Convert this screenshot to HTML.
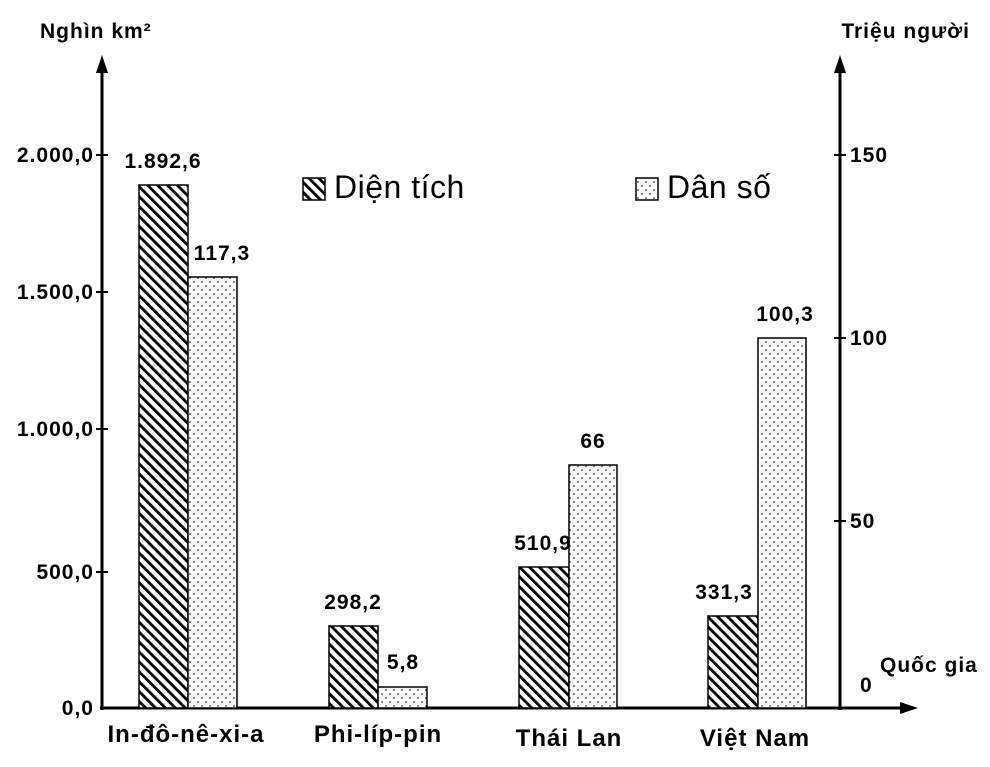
<!DOCTYPE html>
<html><head><meta charset="utf-8"><style>body{margin:0;background:#fff}svg{display:block}text{font-family:"Liberation Sans",sans-serif;font-weight:bold;fill:#000}</style></head><body>
<svg width="990" height="767" xmlns="http://www.w3.org/2000/svg">
<defs>
<pattern id="h" patternUnits="userSpaceOnUse" width="7" height="7" patternTransform="rotate(-45)"><rect width="7" height="7" fill="#fff"/><rect x="0" y="0" width="2.8" height="7" fill="#000"/></pattern>
<pattern id="d" patternUnits="userSpaceOnUse" width="8" height="8"><rect width="8" height="8" fill="#fff"/><circle cx="2" cy="2" r="0.8" fill="#000"/><circle cx="6" cy="6" r="0.8" fill="#000"/></pattern>
</defs>
<g stroke="#000" stroke-width="3" fill="none">
<line x1="102" y1="710" x2="102" y2="70"/>
<line x1="840" y1="710" x2="840" y2="70"/>
<line x1="100" y1="708" x2="905" y2="708"/>
</g>
<polygon points="102,55 96,73 108,73" fill="#000"/>
<polygon points="840,55 834,73 846,73" fill="#000"/>
<polygon points="918,708 900,702 900,714" fill="#000"/>
<g stroke="#000" stroke-width="2">
<line x1="96" y1="155" x2="108" y2="155"/><line x1="96" y1="292" x2="108" y2="292"/><line x1="96" y1="429" x2="108" y2="429"/><line x1="96" y1="572" x2="108" y2="572"/>
<line x1="834" y1="155" x2="846" y2="155"/><line x1="834" y1="338" x2="846" y2="338"/><line x1="834" y1="521" x2="846" y2="521"/>
</g>
<g font-size="21" text-anchor="end" letter-spacing="1">
<text x="94" y="162">2.000,0</text><text x="94" y="299">1.500,0</text><text x="94" y="436">1.000,0</text><text x="94" y="579">500,0</text><text x="94" y="715">0,0</text>
</g>
<g font-size="21" letter-spacing="1">
<text x="850" y="162">150</text><text x="850" y="345">100</text><text x="850" y="528">50</text><text x="860" y="692">0</text>
<text x="40" y="38">Nghìn km²</text><text x="970" y="38" text-anchor="end">Triệu người</text>
<text x="880" y="672">Quốc gia</text>
</g>
<g stroke="#000" stroke-width="1.5">
<rect x="139" y="185" width="49" height="523" fill="url(#h)"/>
<rect x="188" y="277" width="49" height="431" fill="url(#d)"/>
<rect x="329" y="626" width="49" height="82" fill="url(#h)"/>
<rect x="378" y="687" width="49" height="21" fill="url(#d)"/>
<rect x="519" y="567" width="50" height="141" fill="url(#h)"/>
<rect x="569" y="465" width="48" height="243" fill="url(#d)"/>
<rect x="708" y="616" width="50" height="92" fill="url(#h)"/>
<rect x="758" y="338" width="48" height="370" fill="url(#d)"/>
<rect x="303" y="178" width="22" height="22" fill="url(#h)"/>
<rect x="636" y="178" width="22" height="22" fill="url(#d)"/>
</g>
<g font-size="21" text-anchor="middle" letter-spacing="1">
<text x="163" y="168">1.892,6</text><text x="222" y="260">117,3</text>
<text x="353" y="609">298,2</text><text x="403" y="669">5,8</text>
<text x="543" y="550">510,9</text><text x="593" y="448">66</text>
<text x="724" y="599">331,3</text><text x="785" y="321">100,3</text>
</g>
<g font-size="24" text-anchor="middle" letter-spacing="1">
<text x="186" y="742">In-đô-nê-xi-a</text><text x="378" y="742">Phi-líp-pin</text><text x="569" y="746">Thái Lan</text><text x="755" y="746">Việt Nam</text>
</g>
<text x="334" y="198" font-size="32" letter-spacing="0.5" style="font-weight:normal">Diện tích</text>
<text x="667" y="198" font-size="32" letter-spacing="0.5" style="font-weight:normal">Dân số</text>
</svg>
</body></html>
